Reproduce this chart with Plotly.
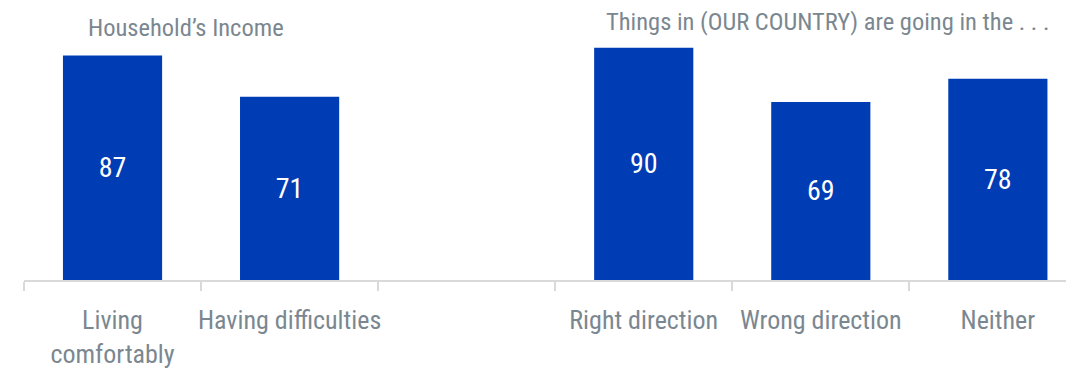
import plotly.graph_objects as go

categories = ["Living<br>comfortably", "Having difficulties", " ", "Right direction", "Wrong direction", "Neither"]
values = [87, 71, None, 90, 69, 78]
group_titles = ["Household’s Income", "Things in (OUR COUNTRY) are going in the . . ."]

FONT = "Roboto Condensed, Liberation Sans, sans-serif"
GRAY = "#7b8790"
BLUE = "#003cb4"

fig = go.Figure()
fig.add_trace(go.Bar(
    x=categories, y=values,
    marker=dict(color=BLUE, line=dict(width=0)),
    text=[("" if v is None else str(v)) for v in values],
    textposition="inside", insidetextanchor="middle",
    textfont=dict(family=FONT, size=28, color="white"),
    hoverinfo="skip",
))

# page body has an 8px margin, so the figure is sized/offset to compensate
fig.update_layout(
    width=1066, height=366,
    margin=dict(l=16, r=0, t=14, b=94),
    paper_bgcolor="white", plot_bgcolor="white",
    bargap=0.44, showlegend=False,
    font=dict(family=FONT, size=26, color=GRAY),
    xaxis=dict(
        type="category", range=[-0.5, 5.43],
        showline=True, linecolor="#d9d9d9", linewidth=2,
        ticks="outside", tickson="boundaries", ticklen=9, tickwidth=2, tickcolor="#d9d9d9",
        tickfont=dict(family=FONT, size=26, color=GRAY),
        tickangle=0, automargin=False, ticklabelstandoff=16,
        showgrid=False, zeroline=False, fixedrange=True,
    ),
    yaxis=dict(range=[0, 100], visible=False, fixedrange=True),
)

fig.add_annotation(text=group_titles[0], xref="x", yref="paper", x=0.5, y=0.975,
                   xshift=-15, yshift=1, yanchor="middle", showarrow=False,
                   font=dict(family=FONT, size=24.5, color=GRAY))
fig.add_annotation(text=group_titles[1], xref="x", yref="paper", x=4, y=0.995,
                   xshift=7, yshift=2, yanchor="middle", showarrow=False,
                   font=dict(family=FONT, size=24.5, color=GRAY))

fig.write_html("out.html")
